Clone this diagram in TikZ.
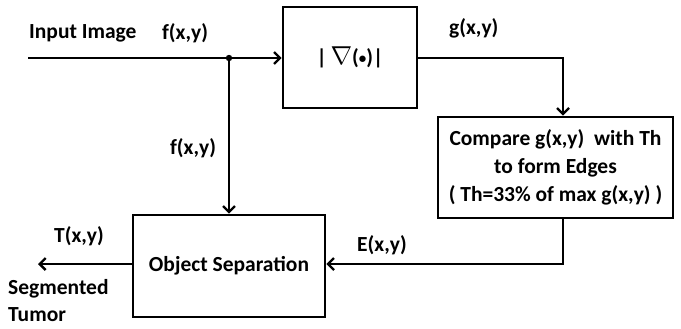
\documentclass[tikz,border=0pt]{standalone}
\usepackage{fontspec}
\setmainfont{Carlito}
\usetikzlibrary{arrows.meta}
\begin{document}
\begin{tikzpicture}[x=1pt,y=-1pt,
  blk/.style={draw,line width=2.6pt,inner sep=0pt},
  con/.style={line width=2.6pt,-{Straight Barb[length=6pt,width=12pt,line width=2.4pt]}},
  lbl/.style={inner sep=0pt},
  every node/.style={font=\fontsize{21.5}{26}\selectfont\bfseries}]
\useasboundingbox (0,0) rectangle (681,329);
\node[blk,minimum width=134pt,minimum height=101pt] (grad) at (350,57.5) {|\,\scalebox{1.25}{$\nabla$}(\raisebox{0.15ex}{\scalebox{0.7}{\textbullet}})|};
\node[blk,minimum width=235pt,minimum height=101pt,align=center,font=\fontsize{21.5}{28}\selectfont\bfseries] (cmp) at (555.5,167.5) {Compare g(x,y)\ \ with Th\\to form Edges\\( Th=33\% of max g(x,y) )};
\node[blk,minimum width=192pt,minimum height=102pt] (obj) at (229,266) {Object Separation};
\coordinate (in) at (28,58);
\coordinate (j) at (229,58);
\coordinate (out) at (38,264);
\coordinate (g1) at (563,58);
\coordinate (e1) at (563,264);
\draw[con] (in) -- (grad.west |- in);
\fill (j) circle (3.2pt);
\draw[con] (j) -- (obj.north -| j);
\draw[con] (grad.east |- g1) -- (g1) -- (cmp.north -| g1);
\draw[con] (cmp.south -| e1) -- (e1) -- (obj.east |- e1);
\draw[con] (obj.west |- out) -- (out);
\node[lbl,anchor=west] (l1) at (29,33) {Input Image};
\node[lbl,anchor=west] (l2) at (162,33) {f(x,y)};
\node[lbl,anchor=west] (l3) at (449,28) {g(x,y)};
\node[lbl,anchor=west] (l4) at (170,148) {f(x,y)};
\node[lbl,anchor=west] (l5) at (54,236) {T(x,y)};
\node[lbl,anchor=west] (l6) at (357,245) {E(x,y)};
\node[lbl,anchor=west,align=left,font=\fontsize{21.5}{27}\selectfont\bfseries] (l7) at (8,301) {Segmented\\Tumor};
\end{tikzpicture}
\end{document}
